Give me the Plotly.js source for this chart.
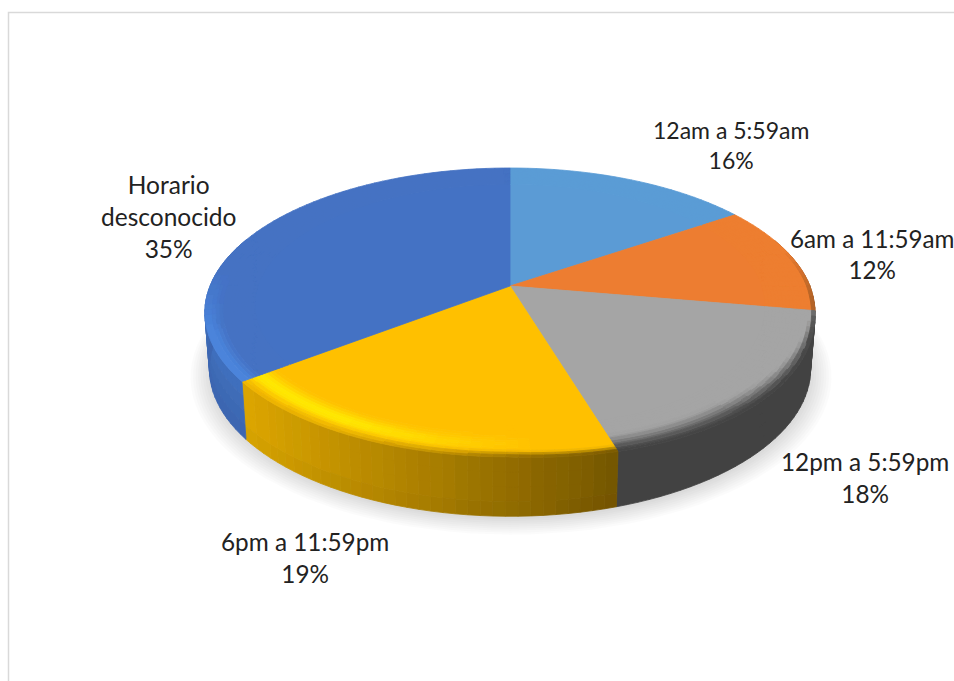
<!DOCTYPE html>
<html>
<head>
<meta charset="utf-8">
<script src="https://cdn.plot.ly/plotly-3.0.1.min.js"></script>
<style>html,body{margin:0;padding:0;background:#fff;overflow:hidden}#chart{width:954px;height:681px}</style>
</head>
<body>
<div id="chart"></div>
<script>
// ---- data ----
const categories = ["12am a 5:59am", "6am a 11:59am", "12pm a 5:59pm", "6pm a 11:59pm", "Horario<br>desconocido"];
const shares = [15.5, 12.0, 17.7, 19.4, 35.4];
const faceColors = ["#5B9BD5", "#ED7D31", "#A5A5A5", "#FFC000", "#4472C4"];
const labelX = [731, 872, 865, 305, 168];
const labelY = [145, 254, 477, 557, 216];
const labelSize = [23, 24.2, 24.3, 24.3, 24.5];

// ---- tilted-disc projection ----
const CX = 510, CY = 286, F = 300, G = 139.6, P = 0.183;
const BOT_CY = 342, BOT_X = 0.985, BOT_Y = 1.02;
const RING0 = 0.84, RSTEPS = 14, DEG = 2;

const rad = d => d * Math.PI / 180;
function topPt(th, r) {
  const X = r * Math.sin(rad(th)), Y = -r * Math.cos(rad(th)), d = 1 - P * Y;
  const sag = (th > 90 && th < 180) ? 7 * r * Math.sin(rad(2 * (th - 90))) : 0;
  return [CX + F * X / d, CY + G * Y / d + sag];
}
function botPt(th, r) {
  const X = r * Math.sin(rad(th)), Y = -r * Math.cos(rad(th)), d = 1 - P * Y;
  return [CX + BOT_X * F * X / d, BOT_CY + BOT_Y * G * Y / d];
}
const clamp = v => Math.max(0, Math.min(1, v));
const sstep = (a, b, v) => { const t = clamp((v - a) / (b - a)); return t * t * (3 - 2 * t); };
const hex = h => [1, 3, 5].map(i => parseInt(h.substr(i, 2), 16));
const mix = (a, b, t) => a.map((v, i) => v + (b[i] - v) * t);
const css = c => "rgb(" + c.map(v => Math.round(Math.round(v) / 3) * 3).join(",") + ")";

function wallColor(i, th, v) {
  if (i === 3) {
    const f = clamp((232 - th) / 69);
    let c = mix(hex("#DCA600"), hex("#745500"), Math.pow(f, 1.25));
    c = mix(c, hex("#5E4600"), 0.6 * sstep(0.85, 1, v));
    return c;
  }
  if (i === 2) return hex("#434343");
  if (i === 4) return mix(hex("#4070BE"), hex("#3A66AE"), v);
  if (i === 1) return hex("#8A4F20");
  return hex("#3F6E9B");
}
function ringColor(i, th, t) {
  const base = hex(faceColors[i]);
  const Y = -Math.cos(rad(th));
  if (i === 3) {
    const h = clamp((th - 175) / 35);
    const bump = Math.exp(-Math.pow((t - 0.62) / 0.2, 2));
    let c = mix(base, hex("#FFE800"), h * bump);
    return mix(c, wallColor(3, th, 0), sstep(0.78, 1, t) * (0.45 + 0.55 * (1 - h)));
  }
  if (i === 2) {
    const lo = 0.92 - 0.5 * clamp((th - 100) / 40);
    return mix(base, hex("#444444"), sstep(lo, 1, t));
  }
  if (i === 4) {
    return mix(base, hex("#4A84DC"), clamp((Y + 0.1) / 0.4) * sstep(0.6, 0.92, t));
  }
  if (i === 1) {
    return mix(base, hex("#8A5020"), sstep(0.92, 1, t) * clamp((th - 75) / 20));
  }
  return base;
}

const traces = [];
function addLayer(groups, stroke) {
  Object.keys(groups).forEach(col => {
    traces.push({type: "scatter", mode: "lines", x: groups[col].x, y: groups[col].y,
      fill: "toself", fillcolor: col, hoverinfo: "skip", showlegend: false,
      line: {color: stroke ? col : "rgba(0,0,0,0)", width: stroke ? 0.8 : 0}});
  });
}
function push(groups, col, pts) {
  const g = groups[col] || (groups[col] = {x: [], y: []});
  pts.concat([pts[0]]).forEach(p => { g.x.push(p[0]); g.y.push(p[1]); });
  g.x.push(null); g.y.push(null);
}

// soft shadow under the disc
for (let k = 0; k < 9; k++) {
  const pts = [], r = 1.0 + k * 0.008;
  for (let a = 0; a < 360; a += 3) {
    const p = botPt(a, r);
    pts.push([p[0] + 1, p[1] + 3 + k * 0.2]);
  }
  addLayer((g => { push(g, "rgba(0,0,0,0.016)", pts); return g; })({}), false);
}

// slice limits, clockwise from twelve o'clock
const total = shares.reduce((a, b) => a + b, 0);
const limits = [];
shares.reduce((acc, v) => { limits.push([acc, acc + v / total * 360]); return acc + v / total * 360; }, 0);

// side wall
const walls = {};
limits.forEach((lim, i) => {
  for (let a = lim[0]; a < lim[1] - 1e-6; a += DEG) {
    const b = Math.min(a + DEG, lim[1]), m = (a + b) / 2;
    if (m < 70 || m > 290) continue;
    for (let v = 0; v < 4; v++) {
      const v0 = v / 4, v1 = (v + 1) / 4;
      const lerp = (p, q, t) => [p[0] + (q[0] - p[0]) * t, p[1] + (q[1] - p[1]) * t];
      const ta = topPt(a, 1), tb = topPt(b, 1), ba = botPt(a, 1), bb = botPt(b, 1);
      push(walls, css(wallColor(i, m, (v + 0.5) / 4)),
        [lerp(ta, ba, v0), lerp(tb, bb, v0), lerp(tb, bb, v1), lerp(ta, ba, v1)]);
    }
  }
});
addLayer(walls, true);

// flat top of each slice
limits.forEach((lim, i) => {
  const pts = [[CX, CY]];
  for (let a = lim[0]; a < lim[1]; a += DEG) pts.push(topPt(a, RING0 + 0.005));
  pts.push(topPt(lim[1], RING0 + 0.005));
  const g = {};
  push(g, faceColors[i], pts);
  addLayer(g, true);
});

// rounded rim of each slice
const rims = {};
limits.forEach((lim, i) => {
  for (let a = lim[0]; a < lim[1] - 1e-6; a += DEG) {
    const b = Math.min(a + DEG, lim[1]), m = (a + b) / 2;
    for (let s = 0; s < RSTEPS; s++) {
      const r0 = RING0 + (1 - RING0) * s / RSTEPS, r1 = RING0 + (1 - RING0) * (s + 1) / RSTEPS;
      push(rims, css(ringColor(i, m, (s + 0.5) / RSTEPS)), [topPt(a, r0), topPt(b, r0), topPt(b, r1), topPt(a, r1)]);
    }
  }
});
addLayer(rims, true);

// data labels
const annotations = categories.map((c, i) => ({
  x: labelX[i], y: labelY[i], xref: "x", yref: "y", showarrow: false, xanchor: "center", yanchor: "middle",
  text: c + "<br>" + Math.round(shares[i]) + "%",
  font: {family: "Lato, 'Open Sans', sans-serif", size: labelSize[i], color: "#222222"}
}));

const layout = {
  width: 954, height: 681, margin: {l: 0, r: 0, t: 0, b: 0},
  paper_bgcolor: "#ffffff", plot_bgcolor: "#ffffff", showlegend: false,
  xaxis: {range: [0, 954], visible: false, fixedrange: true},
  yaxis: {range: [681, 0], visible: false, fixedrange: true},
  shapes: [{type: "rect", xref: "x", yref: "y", x0: 8.5, y0: 12.5, x1: 1100, y1: 900,
    line: {color: "#D9D9D9", width: 1.5}, fillcolor: "rgba(0,0,0,0)", layer: "below"}],
  annotations: annotations
};
Plotly.newPlot("chart", traces, layout, {displayModeBar: false, staticPlot: true});
</script>
</body>
</html>
